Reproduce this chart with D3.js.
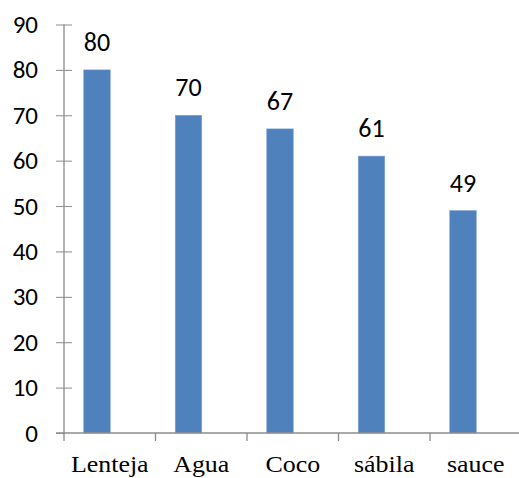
<!DOCTYPE html>
<html><head><meta charset="utf-8">
<script src="https://cdn.jsdelivr.net/npm/d3@7"></script>
<style>body{margin:0;background:#fff}</style>
</head><body>
<svg id="c" width="519" height="478"></svg>
<script>
const categories = ["Lenteja", "Agua", "Coco", "sábila", "sauce"];
const values = [80, 70, 67, 61, 49];
const yTicks = [0, 10, 20, 30, 40, 50, 60, 70, 80, 90];

const svg = d3.select("#c");
const x = d3.scaleBand().domain(categories).range([64, 521.5]);
const y = d3.scaleLinear().domain([0, 90]).range([433, 24.5]);
const axisColor = "#8c8c8c";
const barW = 26.5, barOff = -12.75;
const sans = "Carlito, Lato, 'Open Sans', sans-serif";

// bars
svg.selectAll("rect.bar").data(values).enter().append("rect")
  .attr("class", "bar")
  .attr("x", (d, i) => x(categories[i]) + x.bandwidth() / 2 + barOff - barW / 2)
  .attr("width", barW)
  .attr("y", d => y(d))
  .attr("height", d => y(0) - y(d))
  .attr("fill", "#4f81bd")
  .attr("stroke", "#7ea1d2").attr("stroke-width", 0.6);

// value labels
svg.selectAll("text.val").data(values).enter().append("text")
  .attr("class", "val")
  .attr("x", (d, i) => x(categories[i]) + x.bandwidth() / 2 + barOff)
  .attr("y", d => y(d) - 19)
  .attr("text-anchor", "middle")
  .attr("font-family", sans)
  .attr("font-size", 26)
  .attr("fill", "#000")
  .text(d => d);

// y axis
const yAxis = d3.axisLeft(y).tickValues(yTicks).tickSize(8).tickPadding(18);
const gy = svg.append("g").attr("transform", "translate(64,0)").call(yAxis);
gy.select(".domain").remove();
gy.selectAll(".tick line").attr("x2", -8).attr("x1", 8).attr("stroke", axisColor);
gy.selectAll(".tick").filter(d => d === 0).select("line").attr("x1", 0);
gy.selectAll("text").attr("font-family", sans)
  .attr("font-size", 25).attr("fill", "#000").attr("x", -26);
svg.append("line").attr("x1", 64).attr("x2", 64).attr("y1", y(90)).attr("y2", 441)
  .attr("stroke", axisColor).attr("stroke-width", 1.3);

// x axis
svg.append("line").attr("x1", 56).attr("x2", 519).attr("y1", 433).attr("y2", 433)
  .attr("stroke", axisColor).attr("stroke-width", 1.3);
svg.selectAll("line.xt").data(categories.slice(1)).enter().append("line")
  .attr("class", "xt")
  .attr("x1", d => x(d)).attr("x2", d => x(d))
  .attr("y1", 433).attr("y2", 441)
  .attr("stroke", axisColor).attr("stroke-width", 1.3);
svg.selectAll("text.cat").data(categories).enter().append("text")
  .attr("class", "cat")
  .attr("transform", d => `translate(${x(d) + x.bandwidth() / 2},472) scale(1.08,1)`)
  .attr("text-anchor", "middle")
  .attr("font-family", "'Liberation Serif', 'Times New Roman', serif")
  .attr("font-size", 24)
  .attr("fill", "#000")
  .text(d => d);
</script>
</body></html>
